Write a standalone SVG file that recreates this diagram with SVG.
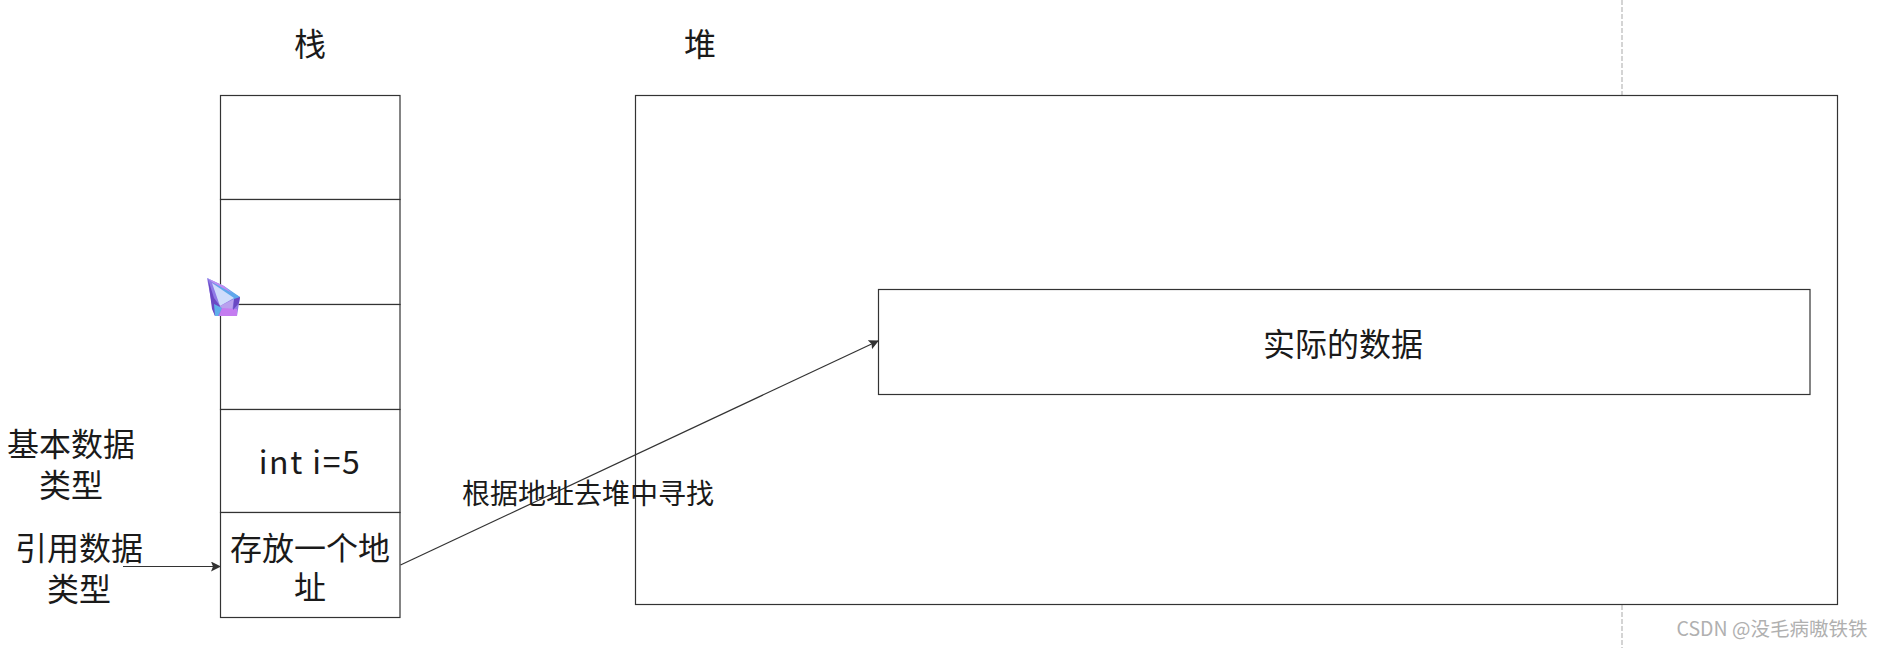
<svg xmlns="http://www.w3.org/2000/svg" width="1883" height="648" viewBox="0 0 1883 648">
<style>
.box{fill:#fff;stroke:#333;stroke-width:1.2}
.ln{fill:none;stroke:#333;stroke-width:1.2}
text{font-family:"Noto Sans CJK SC","Noto Sans",sans-serif;fill:#1a1a1a;text-anchor:middle}
.t32{font-size:32px}
.t28{font-size:28px}
</style>
<defs>
<marker id="arr" markerUnits="userSpaceOnUse" markerWidth="12" markerHeight="12" refX="9" refY="5" orient="auto"><path d="M0 0L10 5L0 10L2 5Z" fill="#333"/></marker>
</defs>
<rect width="1883" height="648" fill="#fff"/>
<path d="M1622 0V95M1622 605V648" fill="none" stroke="#b8b8b8" stroke-width="1.2" stroke-dasharray="5 2"/>
<text id="label-stack" class="t32" x="310" y="56">栈</text>
<text id="label-heap" class="t32" x="700" y="56">堆</text>
<g id="stack-1"><rect class="box" x="220.5" y="95.5" width="179.5" height="104"/></g>
<g id="stack-2"><rect class="box" x="220.5" y="199.5" width="179.5" height="105"/></g>
<g id="stack-3"><rect class="box" x="220.5" y="304.5" width="179.5" height="105"/></g>
<g id="stack-4"><rect class="box" x="220.5" y="409.5" width="179.5" height="103"/><text class="t32" x="310" y="474" letter-spacing="1.5">int i=5</text></g>
<g id="stack-5"><rect class="box" x="220.5" y="512.5" width="179.5" height="105"/><text class="t32" x="310" y="560">存放一个地</text><text class="t32" x="310" y="599">址</text></g>
<g id="heap"><rect class="box" x="635.5" y="95.5" width="1202" height="509"/></g>
<g id="data"><rect class="box" x="878.5" y="289.5" width="931.5" height="105"/><text class="t32" x="1343" y="356">实际的数据</text></g>
<g id="label-basic"><text class="t32" x="71" y="456">基本数据</text><text class="t32" x="71" y="497">类型</text></g>
<g id="label-ref"><text class="t32" x="79" y="560">引用数据</text><text class="t32" x="79" y="601">类型</text></g>
<g id="connectors">
<path class="ln" d="M123 566.5H220" marker-end="url(#arr)"/>
<path class="ln" d="M400.5 565L878 341" marker-end="url(#arr)"/>
</g>
<text id="label-find" class="t28" x="588" y="504">根据地址去堆中寻找</text>
<g id="cursor">
<path d="M207 278L240 297L239 303L237 316L215 316L213 310Z" fill="#8f7be6"/>
<path d="M207 278L224 286L240 297L236 302L212 282Z" fill="#5fa8ec"/>
<path d="M207 278L224 286L232 293L212 282Z" fill="#c48af2"/>
<path d="M212 283L234 298L220 306Z" fill="#cfdcfb"/>
<path d="M234 299L220 306L226 314L232 311Z" fill="#b9a0ee"/>
<path d="M208 279L214 298L220 306L215 316L212 309Z" fill="#6a48c4"/>
<path d="M214 304L222 308L218 316L215 316Z" fill="#5fb0ea"/>
<path d="M222 308L237 309L237 316L219 316Z" fill="#c47cf0"/>
<path d="M234 299L240 297L239 303L233 310Z" fill="#6a48c4"/>
</g>
<text id="watermark" x="1772" y="636" font-size="19.5px" style="fill:#b0b0b0">CSDN @没毛病嗷铁铁</text>
</svg>
